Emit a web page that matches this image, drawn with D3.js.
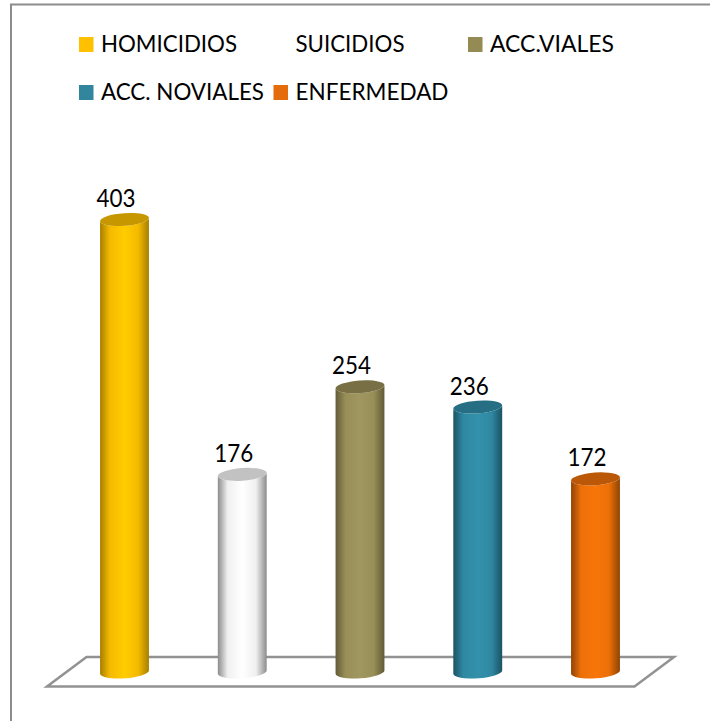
<!DOCTYPE html>
<html><head><meta charset="utf-8">
<script src="https://cdn.jsdelivr.net/npm/d3@7"></script>
<style>html,body{margin:0;padding:0;background:#fff}svg{display:block}text{font-family:Lato,"Open Sans",sans-serif;fill:#000}</style>
</head><body><div id="chart"></div>
<script>
const categories = ["HOMICIDIOS","SUICIDIOS","ACC.VIALES","ACC. NOVIALES","ENFERMEDAD"];
const values = [403,176,254,236,172];
const legendColors = ["#FFC000","#FFFFFF","#948A54","#31859C","#E46C0A"];
const bodyLight = ["#FFCC00","#FFFFFF","#A09660","#3491AB","#F7760A"];
const bodyMid = ["#F5BA00","#F0F0F0","#988E58","#2F88A2","#EC6F08"];
const bodyDark = ["#A67F00","#8C8C8C","#625B36","#1A5364","#8E4405"];
const capColors = ["#C79700","#C2C2C2","#787044","#266E84","#BA5807"];

const W=710,H=721;
const svg=d3.select("#chart").append("svg").attr("width",W).attr("height",H);
const defs=svg.append("defs");
const x=d3.scalePoint().domain(categories).range([124.5,595.5]);
const y=d3.scaleLinear().domain([0,403]).range([672,219.5]);
const rx=24.5,ry=6.3,tilt=-4,rad=tilt*Math.PI/180;
const dx=rx*Math.cos(rad),dy=rx*Math.sin(rad);

// frame
svg.append("path").attr("d","M11,721V4.5H710").attr("fill","none").attr("stroke","#8c8c8c").attr("stroke-width",2);
// floor
svg.append("path").attr("d","M47,686.5L86.5,657H674L634.5,686.5Z").attr("fill","#fff").attr("stroke","#929292").attr("stroke-width",2.5).attr("stroke-linejoin","miter");

categories.forEach((c,i)=>{
  const g=defs.append("linearGradient").attr("id","g"+i);
  [[0,bodyDark[i]],[.2,bodyMid[i]],[.5,bodyLight[i]],[.78,bodyMid[i]],[1,bodyDark[i]]]
    .forEach(([o,col])=>g.append("stop").attr("offset",o).attr("stop-color",col));
});

const bars=svg.selectAll("g.bar").data(categories.map((c,i)=>({c,i,v:values[i]}))).join("g").attr("class","bar");
bars.append("path").attr("fill",d=>`url(#g${d.i})`).attr("d",d=>{
  const cx=x(d.c),t=y(d.v),b=y(0);
  return `M${cx-dx},${t-dy}L${cx-dx},${b-dy}A${rx},${ry} ${tilt} 0 0 ${cx+dx},${b+dy}L${cx+dx},${t+dy}A${rx},${ry} ${tilt} 0 1 ${cx-dx},${t-dy}Z`;
});
bars.append("ellipse").attr("cx",d=>x(d.c)).attr("cy",d=>y(d.v)).attr("rx",rx).attr("ry",ry)
  .attr("transform",d=>`rotate(${tilt} ${x(d.c)} ${y(d.v)})`).attr("fill",d=>capColors[d.i]);
bars.append("text").attr("x",d=>x(d.c)-8.5).attr("y",d=>y(d.v)-12.5).attr("text-anchor","middle")
  .attr("font-size",25).attr("textLength",39).attr("lengthAdjust","spacingAndGlyphs").text(d=>d.v);

// legend layout
const legendPos=[[79,52],[273.5,52],[468,52],[79,100],[273.5,100]];
const legendTextWidth=[136,109,124,163,153];
const lg=svg.selectAll("g.leg").data(categories).join("g").attr("class","leg")
  .attr("transform",(d,i)=>`translate(${legendPos[i][0]},${legendPos[i][1]})`);
lg.append("rect").attr("y",-15).attr("width",14.5).attr("height",15).attr("fill",(d,i)=>legendColors[i]);
lg.append("text").attr("x",22).attr("y",-0.5).attr("font-size",23.5).attr("textLength",(d,i)=>legendTextWidth[i]).attr("lengthAdjust","spacingAndGlyphs").text(d=>d);
</script></body></html>
